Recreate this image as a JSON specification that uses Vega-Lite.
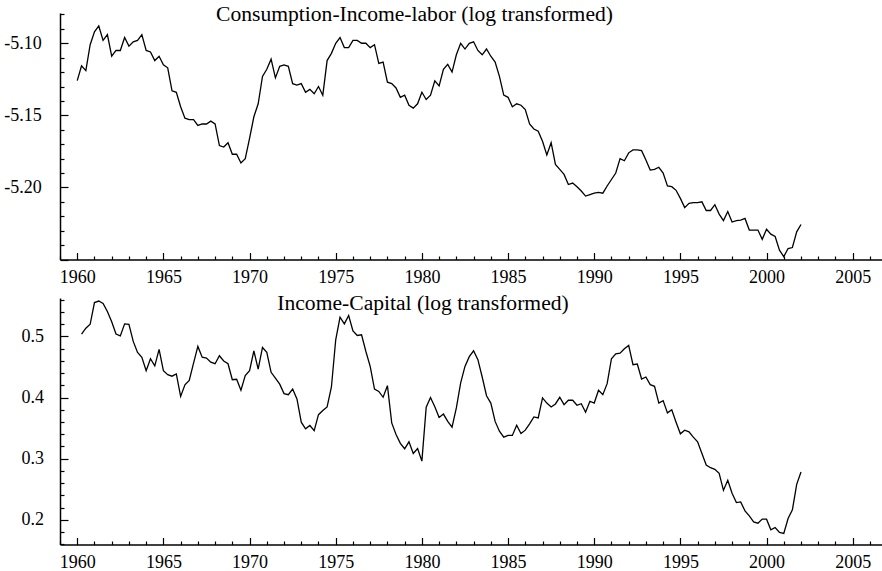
{
  "$schema": "https://vega.github.io/schema/vega-lite/v6.json",
  "padding": {"left": 3, "top": 4, "right": 0, "bottom": 0},
  "spacing": 0,
  "background": "white",
  "config": {
    "view": {"stroke": null},
    "axis": {"domainColor": "black", "domainWidth": 1.5, "tickColor": "black", "tickWidth": 1.2, "labelFont": "Liberation Serif", "labelFontSize": 18, "labelColor": "black", "grid": false, "labelOverlap": false, "labelBound": false, "labelFlush": false}
  },
  "datasets": {
    "cil": [
      {"t":1960.0,"v":-5.1259},{"t":1960.25,"v":-5.1157},{"t":1960.5,"v":-5.119},{"t":1960.75,"v":-5.101},
      {"t":1961.0,"v":-5.092},{"t":1961.25,"v":-5.088},{"t":1961.5,"v":-5.098},{"t":1961.75,"v":-5.094},
      {"t":1962.0,"v":-5.109},{"t":1962.25,"v":-5.105},{"t":1962.5,"v":-5.105},{"t":1962.75,"v":-5.096},
      {"t":1963.0,"v":-5.102},{"t":1963.25,"v":-5.099},{"t":1963.5,"v":-5.098},{"t":1963.75,"v":-5.094},
      {"t":1964.0,"v":-5.105},{"t":1964.25,"v":-5.106},{"t":1964.5,"v":-5.112},{"t":1964.75,"v":-5.109},
      {"t":1965.0,"v":-5.115},{"t":1965.25,"v":-5.117},{"t":1965.5,"v":-5.133},{"t":1965.75,"v":-5.134},
      {"t":1966.0,"v":-5.144},{"t":1966.25,"v":-5.152},{"t":1966.5,"v":-5.153},{"t":1966.75,"v":-5.153},
      {"t":1967.0,"v":-5.157},{"t":1967.25,"v":-5.156},{"t":1967.5,"v":-5.156},{"t":1967.75,"v":-5.154},
      {"t":1968.0,"v":-5.156},{"t":1968.25,"v":-5.171},{"t":1968.5,"v":-5.172},{"t":1968.75,"v":-5.169},
      {"t":1969.0,"v":-5.177},{"t":1969.25,"v":-5.177},{"t":1969.5,"v":-5.183},{"t":1969.75,"v":-5.180},
      {"t":1970.0,"v":-5.166},{"t":1970.25,"v":-5.151},{"t":1970.5,"v":-5.142},{"t":1970.75,"v":-5.123},
      {"t":1971.0,"v":-5.118},{"t":1971.25,"v":-5.111},{"t":1971.5,"v":-5.124},{"t":1971.75,"v":-5.116},
      {"t":1972.0,"v":-5.115},{"t":1972.25,"v":-5.116},{"t":1972.5,"v":-5.128},{"t":1972.75,"v":-5.129},
      {"t":1973.0,"v":-5.128},{"t":1973.25,"v":-5.134},{"t":1973.5,"v":-5.132},{"t":1973.75,"v":-5.135},
      {"t":1974.0,"v":-5.130},{"t":1974.25,"v":-5.136},{"t":1974.5,"v":-5.112},{"t":1974.75,"v":-5.107},
      {"t":1975.0,"v":-5.100},{"t":1975.25,"v":-5.096},{"t":1975.5,"v":-5.103},{"t":1975.75,"v":-5.103},
      {"t":1976.0,"v":-5.098},{"t":1976.25,"v":-5.098},{"t":1976.5,"v":-5.100},{"t":1976.75,"v":-5.100},
      {"t":1977.0,"v":-5.103},{"t":1977.25,"v":-5.101},{"t":1977.5,"v":-5.114},{"t":1977.75,"v":-5.113},
      {"t":1978.0,"v":-5.127},{"t":1978.25,"v":-5.128},{"t":1978.5,"v":-5.131},{"t":1978.75,"v":-5.1375},
      {"t":1979.0,"v":-5.136},{"t":1979.25,"v":-5.143},{"t":1979.5,"v":-5.145},{"t":1979.75,"v":-5.142},
      {"t":1980.0,"v":-5.134},{"t":1980.25,"v":-5.139},{"t":1980.5,"v":-5.136},{"t":1980.75,"v":-5.126},
      {"t":1981.0,"v":-5.1296},{"t":1981.25,"v":-5.118},{"t":1981.5,"v":-5.1146},{"t":1981.75,"v":-5.120},
      {"t":1982.0,"v":-5.108},{"t":1982.25,"v":-5.100},{"t":1982.5,"v":-5.104},{"t":1982.75,"v":-5.100},
      {"t":1983.0,"v":-5.099},{"t":1983.25,"v":-5.105},{"t":1983.5,"v":-5.108},{"t":1983.75,"v":-5.104},
      {"t":1984.0,"v":-5.109},{"t":1984.25,"v":-5.113},{"t":1984.5,"v":-5.123},{"t":1984.75,"v":-5.136},
      {"t":1985.0,"v":-5.1375},{"t":1985.25,"v":-5.144},{"t":1985.5,"v":-5.142},{"t":1985.75,"v":-5.143},
      {"t":1986.0,"v":-5.146},{"t":1986.25,"v":-5.156},{"t":1986.5,"v":-5.1595},{"t":1986.75,"v":-5.161},
      {"t":1987.0,"v":-5.168},{"t":1987.25,"v":-5.1775},{"t":1987.5,"v":-5.169},{"t":1987.75,"v":-5.184},
      {"t":1988.0,"v":-5.1875},{"t":1988.25,"v":-5.191},{"t":1988.5,"v":-5.198},{"t":1988.75,"v":-5.197},
      {"t":1989.0,"v":-5.1995},{"t":1989.25,"v":-5.2025},{"t":1989.5,"v":-5.206},{"t":1989.75,"v":-5.205},
      {"t":1990.0,"v":-5.204},{"t":1990.25,"v":-5.2035},{"t":1990.5,"v":-5.204},{"t":1990.75,"v":-5.199},
      {"t":1991.0,"v":-5.1945},{"t":1991.25,"v":-5.190},{"t":1991.5,"v":-5.180},{"t":1991.75,"v":-5.1815},
      {"t":1992.0,"v":-5.176},{"t":1992.25,"v":-5.174},{"t":1992.5,"v":-5.174},{"t":1992.75,"v":-5.1745},
      {"t":1993.0,"v":-5.181},{"t":1993.25,"v":-5.188},{"t":1993.5,"v":-5.1875},{"t":1993.75,"v":-5.186},
      {"t":1994.0,"v":-5.190},{"t":1994.25,"v":-5.199},{"t":1994.5,"v":-5.1995},{"t":1994.75,"v":-5.202},
      {"t":1995.0,"v":-5.2076},{"t":1995.25,"v":-5.214},{"t":1995.5,"v":-5.211},{"t":1995.75,"v":-5.2106},
      {"t":1996.0,"v":-5.2106},{"t":1996.25,"v":-5.210},{"t":1996.5,"v":-5.216},{"t":1996.75,"v":-5.216},
      {"t":1997.0,"v":-5.212},{"t":1997.25,"v":-5.2185},{"t":1997.5,"v":-5.223},{"t":1997.75,"v":-5.2167},
      {"t":1998.0,"v":-5.224},{"t":1998.25,"v":-5.223},{"t":1998.5,"v":-5.2227},{"t":1998.75,"v":-5.2215},
      {"t":1999.0,"v":-5.2296},{"t":1999.25,"v":-5.2296},{"t":1999.5,"v":-5.2296},{"t":1999.75,"v":-5.236},
      {"t":2000.0,"v":-5.229},{"t":2000.25,"v":-5.2324},{"t":2000.5,"v":-5.234},{"t":2000.75,"v":-5.2435},
      {"t":2001.0,"v":-5.248},{"t":2001.25,"v":-5.2424},{"t":2001.5,"v":-5.2417},{"t":2001.75,"v":-5.2308},
      {"t":2002.0,"v":-5.2257}
    ],
    "ic": [
      {"t":1960.25,"v":0.5038},{"t":1960.5,"v":0.5136},{"t":1960.75,"v":0.520},
      {"t":1961.0,"v":0.5555},{"t":1961.25,"v":0.558},{"t":1961.5,"v":0.554},{"t":1961.75,"v":0.541},
      {"t":1962.0,"v":0.524},{"t":1962.25,"v":0.504},{"t":1962.5,"v":0.501},{"t":1962.75,"v":0.5207},
      {"t":1963.0,"v":0.520},{"t":1963.25,"v":0.492},{"t":1963.5,"v":0.474},{"t":1963.75,"v":0.466},
      {"t":1964.0,"v":0.444},{"t":1964.25,"v":0.4636},{"t":1964.5,"v":0.452},{"t":1964.75,"v":0.479},
      {"t":1965.0,"v":0.444},{"t":1965.25,"v":0.4375},{"t":1965.5,"v":0.435},{"t":1965.75,"v":0.4386},
      {"t":1966.0,"v":0.402},{"t":1966.25,"v":0.421},{"t":1966.5,"v":0.428},{"t":1966.75,"v":0.4565},
      {"t":1967.0,"v":0.4837},{"t":1967.25,"v":0.466},{"t":1967.5,"v":0.4647},{"t":1967.75,"v":0.458},
      {"t":1968.0,"v":0.4554},{"t":1968.25,"v":0.4685},{"t":1968.5,"v":0.460},{"t":1968.75,"v":0.4554},
      {"t":1969.0,"v":0.4293},{"t":1969.25,"v":0.430},{"t":1969.5,"v":0.412},{"t":1969.75,"v":0.436},
      {"t":1970.0,"v":0.444},{"t":1970.25,"v":0.4766},{"t":1970.5,"v":0.4467},{"t":1970.75,"v":0.482},
      {"t":1971.0,"v":0.474},{"t":1971.25,"v":0.4413},{"t":1971.5,"v":0.432},{"t":1971.75,"v":0.422},
      {"t":1972.0,"v":0.4065},{"t":1972.25,"v":0.4048},{"t":1972.5,"v":0.414},{"t":1972.75,"v":0.3978},
      {"t":1973.0,"v":0.3597},{"t":1973.25,"v":0.349},{"t":1973.5,"v":0.3543},{"t":1973.75,"v":0.346},
      {"t":1974.0,"v":0.372},{"t":1974.25,"v":0.3787},{"t":1974.5,"v":0.3847},{"t":1974.75,"v":0.4173},
      {"t":1975.0,"v":0.4946},{"t":1975.25,"v":0.5315},{"t":1975.5,"v":0.5207},{"t":1975.75,"v":0.5343},
      {"t":1976.0,"v":0.509},{"t":1976.25,"v":0.5016},{"t":1976.5,"v":0.5027},{"t":1976.75,"v":0.4755},
      {"t":1977.0,"v":0.451},{"t":1977.25,"v":0.414},{"t":1977.5,"v":0.410},{"t":1977.75,"v":0.4005},
      {"t":1978.0,"v":0.4195},{"t":1978.25,"v":0.3586},{"t":1978.5,"v":0.3396},{"t":1978.75,"v":0.325},
      {"t":1979.0,"v":0.3162},{"t":1979.25,"v":0.3276},{"t":1979.5,"v":0.3086},{"t":1979.75,"v":0.3167},
      {"t":1980.0,"v":0.296},{"t":1980.25,"v":0.3842},{"t":1980.5,"v":0.400},{"t":1980.75,"v":0.385},
      {"t":1981.0,"v":0.3675},{"t":1981.25,"v":0.373},{"t":1981.5,"v":0.361},{"t":1981.75,"v":0.3516},
      {"t":1982.0,"v":0.383},{"t":1982.25,"v":0.424},{"t":1982.5,"v":0.451},{"t":1982.75,"v":0.467},
      {"t":1983.0,"v":0.4766},{"t":1983.25,"v":0.462},{"t":1983.5,"v":0.4337},{"t":1983.75,"v":0.403},
      {"t":1984.0,"v":0.391},{"t":1984.25,"v":0.361},{"t":1984.5,"v":0.345},{"t":1984.75,"v":0.3352},
      {"t":1985.0,"v":0.338},{"t":1985.25,"v":0.338},{"t":1985.5,"v":0.3548},{"t":1985.75,"v":0.3412},
      {"t":1986.0,"v":0.3467},{"t":1986.25,"v":0.357},{"t":1986.5,"v":0.3684},{"t":1986.75,"v":0.3668},
      {"t":1987.0,"v":0.3994},{"t":1987.25,"v":0.391},{"t":1987.5,"v":0.3847},{"t":1987.75,"v":0.3896},
      {"t":1988.0,"v":0.4005},{"t":1988.25,"v":0.3885},{"t":1988.5,"v":0.3956},{"t":1988.75,"v":0.3956},
      {"t":1989.0,"v":0.3874},{"t":1989.25,"v":0.390},{"t":1989.5,"v":0.376},{"t":1989.75,"v":0.394},
      {"t":1990.0,"v":0.391},{"t":1990.25,"v":0.412},{"t":1990.5,"v":0.4048},{"t":1990.75,"v":0.4228},
      {"t":1991.0,"v":0.4636},{"t":1991.25,"v":0.4717},{"t":1991.5,"v":0.4728},{"t":1991.75,"v":0.4799},
      {"t":1992.0,"v":0.4853},{"t":1992.25,"v":0.4538},{"t":1992.5,"v":0.4549},{"t":1992.75,"v":0.4304},
      {"t":1993.0,"v":0.4337},{"t":1993.25,"v":0.4212},{"t":1993.5,"v":0.4184},{"t":1993.75,"v":0.391},
      {"t":1994.0,"v":0.395},{"t":1994.25,"v":0.375},{"t":1994.5,"v":0.380},{"t":1994.75,"v":0.3597},
      {"t":1995.0,"v":0.3407},{"t":1995.25,"v":0.3467},{"t":1995.5,"v":0.344},{"t":1995.75,"v":0.3352},
      {"t":1996.0,"v":0.3276},{"t":1996.25,"v":0.3086},{"t":1996.5,"v":0.2896},{"t":1996.75,"v":0.2852},
      {"t":1997.0,"v":0.2825},{"t":1997.25,"v":0.276},{"t":1997.5,"v":0.2482},{"t":1997.75,"v":0.2646},
      {"t":1998.0,"v":0.2433},{"t":1998.25,"v":0.2281},{"t":1998.5,"v":0.2292},{"t":1998.75,"v":0.2145},
      {"t":1999.0,"v":0.2064},{"t":1999.25,"v":0.1966},{"t":1999.5,"v":0.1944},{"t":1999.75,"v":0.201},
      {"t":2000.0,"v":0.201},{"t":2000.25,"v":0.1836},{"t":2000.5,"v":0.1874},{"t":2000.75,"v":0.1792},
      {"t":2001.0,"v":0.1776},{"t":2001.25,"v":0.202},{"t":2001.5,"v":0.2162},{"t":2001.75,"v":0.258},
      {"t":2002.0,"v":0.2781}
    ]
  },
  "vconcat": [
    {
      "width": 822,
      "height": 246.5,
      "title": {"text": "Consumption-Income-labor (log transformed)", "font": "Liberation Serif", "fontSize": 21.6, "fontWeight": "normal", "color": "black", "anchor": "middle", "frame": "group", "dx": -56.5, "offset": -37.5, "baseline": "alphabetic"},
      "data": {"name": "cil"},
      "mark": {"type": "line", "color": "black", "strokeWidth": 1.3},
      "encoding": {
        "x": {"field": "t", "type": "quantitative", "scale": {"domain": [1959, 2006.7], "nice": false, "zero": false},
          "axis": {"title": null, "values": [1959,1960,1961,1962,1963,1964,1965,1966,1967,1968,1969,1970,1971,1972,1973,1974,1975,1976,1977,1978,1979,1980,1981,1982,1983,1984,1985,1986,1987,1988,1989,1990,1991,1992,1993,1994,1995,1996,1997,1998,1999,2000,2001,2002,2003,2004,2005,2006],
            "labelExpr": "datum.value % 5 === 0 ? format(datum.value, 'd') : ''",
            "tickSize": {"condition": {"test": "datum.value % 5 === 0", "value": -7}, "value": -3.5},
            "labelPadding": 15.5}},
        "y": {"field": "v", "type": "quantitative", "scale": {"domain": [-5.25, -5.079], "nice": false, "zero": false},
          "axis": {"title": null, "values": [-5.25,-5.24,-5.23,-5.22,-5.21,-5.2,-5.19,-5.18,-5.17,-5.16,-5.15,-5.14,-5.13,-5.12,-5.11,-5.1,-5.09,-5.08],
            "labelExpr": "(round(datum.value*100) === -510 || round(datum.value*100) === -515 || round(datum.value*100) === -520) ? '-' + format(-datum.value, '.2f') : ''",
            "tickSize": {"condition": {"test": "round(datum.value*100) % 5 === 0", "value": -8}, "value": -4},
            "labelPadding": 26.8}}
      }
    },
    {
      "width": 822,
      "height": 246.5,
      "title": {"text": "Income-Capital (log transformed)", "font": "Liberation Serif", "fontSize": 21.6, "fontWeight": "normal", "color": "black", "anchor": "middle", "frame": "group", "dx": -48, "offset": -40.9, "baseline": "alphabetic"},
      "data": {"name": "ic"},
      "mark": {"type": "line", "color": "black", "strokeWidth": 1.3},
      "encoding": {
        "x": {"field": "t", "type": "quantitative", "scale": {"domain": [1959, 2006.7], "nice": false, "zero": false},
          "axis": {"title": null, "values": [1959,1960,1961,1962,1963,1964,1965,1966,1967,1968,1969,1970,1971,1972,1973,1974,1975,1976,1977,1978,1979,1980,1981,1982,1983,1984,1985,1986,1987,1988,1989,1990,1991,1992,1993,1994,1995,1996,1997,1998,1999,2000,2001,2002,2003,2004,2005,2006],
            "labelExpr": "datum.value % 5 === 0 ? format(datum.value, 'd') : ''",
            "tickSize": {"condition": {"test": "datum.value % 5 === 0", "value": -7}, "value": -3.5},
            "labelPadding": 15.5}},
        "y": {"field": "v", "type": "quantitative", "scale": {"domain": [0.1595, 0.563], "nice": false, "zero": false},
          "axis": {"title": null, "values": [0.16,0.18,0.2,0.22,0.24,0.26,0.28,0.3,0.32,0.34,0.36,0.38,0.4,0.42,0.44,0.46,0.48,0.5,0.52,0.54,0.56],
            "labelExpr": "round(datum.value*100) % 10 === 0 ? format(datum.value, '.1f') : ''",
            "tickSize": {"condition": {"test": "round(datum.value*100) % 10 === 0", "value": -8}, "value": -4},
            "labelPadding": 24.5}}
      }
    }
  ]
}
